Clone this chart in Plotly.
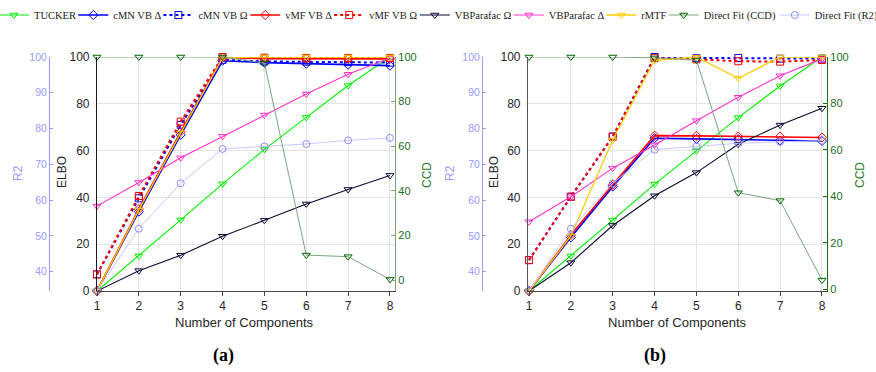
import plotly.graph_objects as go

# ---------------- data ----------------
components = [1, 2, 3, 4, 5, 6, 7, 8]

series_names = ["TUCKER", "cMN VB Δ", "cMN VB Ω", "vMF VB Δ", "vMF VB Ω",
                "VBParafac Ω", "VBParafac Δ", "rMTF", "Direct Fit (CCD)", "Direct Fit (R2)"]

# panel (a)  -- ELBO (normalised, 0-100)
tucker_a = [0, 15.0, 30.4, 45.8, 60.5, 74.2, 87.8, 100]
cmn_delta_a = [0, 33.9, 66.7, 98.4, 97.6, 97.1, 96.7, 96.3]
cmn_omega_a = [7.1, 39.6, 71.0, 98.8, 98.1, 98.0, 97.8, 97.6]
vmf_delta_a = [0, 35.0, 68.0, 99.8, 99.3, 99.3, 99.2, 99.2]
vmf_omega_a = [7.1, 40.6, 72.4, 100, 99.7, 99.6, 99.6, 99.6]
parafac_omega_a = [0, 8.7, 15.3, 23.4, 30.2, 37.2, 43.4, 49.4]
parafac_delta_a = [36.3, 46.4, 56.9, 66.1, 75.2, 84.2, 92.6, 99.6]
rmtf_a = [0, 34.6, 67.5, 99.6, 100, 100, 100, 100]
ccd_a = [100, 100, 100, 100, 97.3, 11.2, 10.5, 0.3]
r2_a = [34.6, 52.0, 64.7, 74.3, 75.0, 75.7, 76.7, 77.4]

# panel (b)
tucker_b = [0, 15.0, 30.3, 45.7, 60.0, 74.1, 87.6, 100]
cmn_delta_b = [0, 22.9, 44.6, 65.3, 65.0, 64.8, 64.3, 64.1]
cmn_omega_b = [13.2, 40.3, 66.0, 100, 99.6, 99.6, 99.3, 99.3]
vmf_delta_b = [0, 23.9, 45.4, 66.4, 66.3, 66.0, 66.0, 65.6]
vmf_omega_b = [13.2, 40.3, 66.0, 99.5, 99.0, 98.2, 98.0, 98.7]
parafac_omega_b = [0, 12.1, 28.0, 40.7, 50.6, 62.7, 70.9, 78.1]
parafac_delta_b = [29.6, 40.3, 52.5, 62.4, 72.8, 82.8, 92.0, 99.2]
rmtf_b = [0, 23.5, 64.5, 98.6, 100, 90.9, 100, 100]
ccd_b = [100, 100, 100, 99.6, 98.7, 41.6, 38.2, 4.0]
r2_b = [34.6, 52.0, 64.7, 74.1, 75.0, 75.9, 76.3, 76.6]

elbo_ticks = [0, 20, 40, 60, 80, 100]
r2_ticks = [40, 50, 60, 70, 80, 90, 100]
ccd_ticks = [0, 20, 40, 60, 80, 100]

# ---------------- styles ----------------
W, H = 876, 372
def px(x):
    return x / W
def py(y):
    return 1 - y / H

styles = {
    "TUCKER": dict(color="#00ee00", symbol="triangle-down-open", dash="solid", width=1.1),
    "cMN VB Δ": dict(color="#0000ff", symbol="diamond-open", dash="solid", width=1.6),
    "cMN VB Ω": dict(color="#0000ff", symbol="square-open", dash="dot", width=2),
    "vMF VB Δ": dict(color="#ff0000", symbol="diamond-open", dash="solid", width=1.6),
    "vMF VB Ω": dict(color="#ff0000", symbol="square-open", dash="dot", width=2),
    "VBParafac Ω": dict(color="#0a0a33", symbol="triangle-down-open", dash="solid", width=1.1),
    "VBParafac Δ": dict(color="#ff33cc", symbol="triangle-down-open", dash="solid", width=1.1),
    "rMTF": dict(color="#ffcc00", symbol="triangle-down-open", dash="solid", width=1.3),
    "Direct Fit (CCD)": dict(color="#006400", line="#7aa77a", symbol="triangle-down-open", dash="solid", width=1),
    "Direct Fit (R2)": dict(color="#8f8fff", line="#c8c8ff", symbol="circle-open", dash="solid", width=1),
}

panel_a = [tucker_a, cmn_delta_a, cmn_omega_a, vmf_delta_a, vmf_omega_a,
           parafac_omega_a, parafac_delta_a, rmtf_a, ccd_a, r2_a]
panel_b = [tucker_b, cmn_delta_b, cmn_omega_b, vmf_delta_b, vmf_omega_b,
           parafac_omega_b, parafac_delta_b, rmtf_b, ccd_b, r2_b]

fig = go.Figure()

def add_panel(values, xa, ya_elbo, ya_r2, ya_ccd, show):
    for i, (name, yv) in enumerate(zip(series_names, values)):
        st = styles[name]
        ya = ya_elbo
        if name == "Direct Fit (CCD)":
            ya = ya_ccd
        elif name == "Direct Fit (R2)":
            ya = ya_r2
        fig.add_trace(go.Scatter(
            x=components, y=yv, name=name, mode="lines+markers",
            xaxis=xa, yaxis=ya, cliponaxis=False,
            line=dict(color=st.get("line", st["color"]), width=st["width"], dash=st["dash"]),
            marker=dict(symbol=st["symbol"], size=7, color=st["color"],
                        line=dict(width=1, color=st["color"])),
            showlegend=show,
            legend=("legend" if i == 0 else f"legend{i+1}"),
        ))

add_panel(panel_a, "x", "y", "y2", "y3", True)
add_panel(panel_b, "x2", "y4", "y5", "y6", False)

ydom = [py(291), py(57)]
tickfont = dict(family="Liberation Sans, Arial", size=12, color="#262626")
r2font = dict(family="Liberation Sans, Arial", size=10.5, color="#9999ff")
ccdfont = dict(family="Liberation Sans, Arial", size=11, color="#1e6e1e")

def xaxis(dom, rng):
    return dict(domain=dom, range=rng, tickvals=components, ticks="outside", ticklen=4,
                tickcolor="#444", showline=True, linecolor="#444", linewidth=1,
                showgrid=True, gridcolor="#e4e4e4", zeroline=False, tickfont=tickfont,
                fixedrange=True)

def elbo_axis(anchor, lc):
    return dict(domain=ydom, range=[0, 100], anchor=anchor, tickvals=elbo_ticks, ticks="",
                showline=True, linecolor=lc, linewidth=1.2, showgrid=True, gridcolor="#e4e4e4",
                zeroline=False, tickfont=tickfont, ticklabelstandoff=4)

def r2_axis(over, pos):
    tv = [34.6] + r2_ticks
    tt = [""] + [str(t) for t in r2_ticks]
    return dict(domain=ydom, range=[34.6, 100], overlaying=over, anchor="free", position=pos,
                side="left", tickvals=tv, ticktext=tt, ticks="inside", ticklen=3,
                tickcolor="#9999ff", showline=True, linecolor="#9999ff", linewidth=1,
                showgrid=False, zeroline=False, tickfont=r2font)

def ccd_axis(over, anchor, rng, lc):
    return dict(domain=ydom, range=rng, overlaying=over, anchor=anchor, side="right",
                tickvals=ccd_ticks, ticks="inside", ticklen=4, tickcolor=lc,
                showline=True, linecolor=lc, linewidth=1.2, showgrid=False, zeroline=False,
                tickfont=ccdfont)

layout = dict(
    width=W, height=H, margin=dict(l=0, r=0, t=0, b=0, autoexpand=False),
    paper_bgcolor="white", plot_bgcolor="white",
    xaxis=xaxis([px(97), px(395)], [1, 8.12]),
    xaxis2=xaxis([px(528), px(827)], [0.976, 8.12]),
    yaxis=elbo_axis("x", "#1a1a1a"),
    yaxis2=r2_axis("y", px(49)),
    yaxis3=ccd_axis("y", "x", [-4.9, 100], "#7aa77a"),
    yaxis4=elbo_axis("x2", "#555555"),
    yaxis5=r2_axis("y4", px(482)),
    yaxis6=ccd_axis("y4", "x2", [-0.7, 100], "#1a6b1a"),
)

# legends: one per series, laid side by side along the top row
LEG_SIZE = 10.5
label_em = [4.0, 4.556, 4.712, 4.446, 4.602, 5.405, 5.249, 2.389, 7.03, 5.944]
legfont = dict(family="Liberation Serif, Times New Roman, serif", size=LEG_SIZE, color="#222")
line_start = -1.0
for i, em in enumerate(label_em):
    key = "legend" if i == 0 else f"legend{i+1}"
    left = line_start - 5
    layout[key] = dict(x=px(left), y=py(15), xanchor="left", yanchor="middle",
                       bgcolor="rgba(0,0,0,0)", borderwidth=0, font=legfont,
                       itemwidth=30, orientation="h", tracegroupgap=0)
    line_start = left + 42 + em * LEG_SIZE + 0.3

ann = []
def title(text, x, y, color, size=12, angle=-90):
    ann.append(dict(text=text, x=px(x), y=py(y), xref="paper", yref="paper",
                    showarrow=False, textangle=angle, xanchor="center", yanchor="middle",
                    font=dict(family="Liberation Sans, Arial", size=size, color=color)))

title("R2", 18, 173, "#9999ff", 12)
title("ELBO", 62, 172, "#262626", 12)
title("CCD", 427, 175, "#2a7a2a", 12)
title("R2", 450, 173, "#9999ff", 12)
title("ELBO", 494, 172, "#262626", 12)
title("CCD", 860, 175, "#2a7a2a", 12)
title("Number of Components", 244, 322, "#262626", 13, 0)
title("Number of Components", 677, 322, "#262626", 13, 0)
for lab, x in (("(a)", 223), ("(b)", 655)):
    ann.append(dict(text=f"<b>{lab}</b>", x=px(x), y=py(355), xref="paper", yref="paper",
                    showarrow=False, xanchor="center", yanchor="middle",
                    font=dict(family="Liberation Serif, Times New Roman, serif", size=18, color="#000")))
layout["annotations"] = ann

fig.update_layout(**layout)
fig.write_html("out.html", config={"displayModeBar": False},
               post_script="document.body.style.margin='0';")
